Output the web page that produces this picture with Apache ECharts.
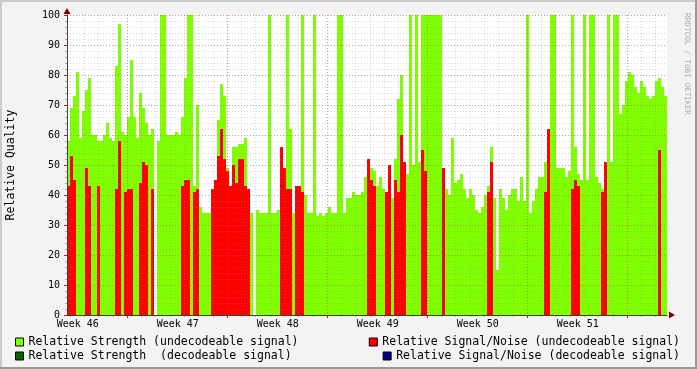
<!DOCTYPE html>
<html><head><meta charset="utf-8">
<script src="https://cdn.jsdelivr.net/npm/echarts@6/dist/echarts.min.js"></script>
<style>html,body{margin:0;padding:0;background:#F3F3F3}#c{width:697px;height:369px}</style>
</head><body><div id="c"></div>
<script>
// Relative Strength (undecodeable signal), one value per 3-px time slot
const strengthUndecodeable = [
58,69,73,81,59,68,75,79,60,60, 58,58,60,64,59,58,83,97,61,60,
66,85,66,59,74,69,64,60,62,0, 58,100,100,60,60,60,61,60,66,79,
100,100,43,70,36,34,34,34,34,37, 65,77,73,49,43,56,56,57,57,59,
42,34,0,35,34,34,34,100,34,34, 35,37,37,100,62,34,37,36,100,40,
34,34,100,33,34,33,34,36,34,34, 100,100,34,39,39,41,40,40,41,46,
48,49,48,43,46,42,40,44,39,52, 72,80,50,47,100,50,100,51,100,100,
100,100,100,100,100,0,42,40,59,44, 45,47,42,39,42,40,35,34,36,40,
43,56,39,15,42,39,35,40,42,42, 38,46,38,100,34,38,42,46,46,51,
45,100,100,49,49,49,46,48,100,56, 47,45,100,45,100,100,46,44,42,49,
100,51,100,100,67,70,78,81,80,76, 74,78,76,73,72,73,78,79,76,73
];
// Relative Signal/Noise (undecodeable signal)
const snrUndecodeable = [
43,53,45,0,0,0,49,43,0,0, 43,0,0,0,0,0,42,58,0,41,
42,42,0,0,44,51,50,0,42,0, 0,0,0,0,0,0,0,0,43,45,
45,0,41,42,0,0,0,0,42,45, 53,62,52,48,43,50,44,52,52,43,
42,0,0,0,0,0,0,0,0,0, 0,56,49,42,42,0,43,43,41,0,
0,0,0,0,0,0,0,0,0,0, 0,0,0,0,0,0,0,0,0,0,
52,45,43,0,0,0,41,50,0,45, 41,60,51,0,0,0,0,0,55,48,
0,0,0,0,0,49,0,0,0,0, 0,0,0,0,0,0,0,0,0,0,
41,51,0,0,0,0,0,0,0,0, 0,0,0,0,0,0,0,0,0,41,
62,0,0,0,0,0,0,0,42,45, 43,0,0,0,0,0,0,0,41,51,
0,0,0,0,0,0,0,0,0,0, 0,0,0,0,0,0,0,55,0,0
];
const strengthDecodeable = [];
const snrDecodeable = [];
const weekLabels = ['Week 46','Week 47','Week 48','Week 49','Week 50','Week 51'];
const seriesNames = [
  'Relative Strength (undecodeable signal)',
  'Relative Signal/Noise (undecodeable signal)',
  'Relative Strength  (decodeable signal)',
  'Relative Signal/Noise (decodeable signal)'
];

const FONT = "'DejaVu Sans Mono', monospace";
const slots = strengthUndecodeable.map((_, i) => i);
const MINOR = 'rgba(140,140,140,0.34)';
const MAJOR = 'rgba(200,40,40,0.36)';

const legendBase = {
  icon: 'rect', itemWidth: 8, itemHeight: 8, padding: 0, selectedMode: false,
  itemStyle: { borderColor: '#000', borderWidth: 1 },
  textStyle: { fontFamily: FONT, fontSize: 11.5, color: '#000' }
};
const hiddenY = (g) => ({ gridIndex: g, type: 'value', min: 0, max: 1, show: false });
const G = (o) => Object.assign({ top: 15, height: 300, containLabel: false, outerBoundsMode: 'none' }, o);

const chart = echarts.init(document.getElementById('c'), null, { renderer: 'canvas' });
chart.setOption({
  animation: false,
  backgroundColor: '#F3F3F3',
  grid: [
    G({ left: 67, width: 600, show: true, backgroundColor: '#fff', borderWidth: 0 }),
    G({ left: 70, width: 585.714 }),
    G({ left: 127.14, width: 500 }),
    G({ left: 77.7, width: 500 })
  ],
  xAxis: [
    { gridIndex: 0, type: 'category', data: slots, boundaryGap: true, position: 'bottom',
      axisLine: { show: true, onZero: false, lineStyle: { color: '#404040' } },
      axisTick: { show: false }, axisLabel: { show: false }, splitLine: { show: false }, z: 6 },
    { gridIndex: 1, type: 'value', min: 0, max: 41, interval: 1,
      axisLine: { show: false, onZero: false }, axisTick: { show: true, length: 2, lineStyle: { color: '#aaa' } },
      axisLabel: { show: false },
      splitLine: { show: true, lineStyle: { color: MINOR, type: [1, 2] } }, z: 4 },
    { gridIndex: 2, type: 'value', min: 0, max: 5, interval: 1,
      axisLine: { show: false, onZero: false }, axisTick: { show: true, length: 3, lineStyle: { color: '#c81e1e' } },
      axisLabel: { show: false },
      splitLine: { show: true, lineStyle: { color: MAJOR, type: [1, 2] } }, z: 5 },
    { gridIndex: 3, type: 'category', data: weekLabels, boundaryGap: false,
      axisLine: { show: false, onZero: false }, axisTick: { show: false },
      axisLabel: { show: true, interval: 0, margin: 4, fontFamily: FONT, fontSize: 10, color: '#000' },
      splitLine: { show: false } },
    { gridIndex: 0, type: 'value', min: 0, max: 1, position: 'bottom',
      axisLine: { show: true, onZero: false, lineStyle: { color: '#7f0000' },
        symbol: ['none', 'triangle'], symbolSize: [7, 6], symbolOffset: [0, 5] },
      axisTick: { show: false }, axisLabel: { show: false }, splitLine: { show: false }, z: 3 }
  ],
  yAxis: [
    { gridIndex: 0, type: 'value', min: 0, max: 100, interval: 10, position: 'left',
      axisLine: { show: true, onZero: false, lineStyle: { color: '#404040' } },
      axisTick: { show: true, length: 3, lineStyle: { color: '#c81e1e' } },
      axisLabel: { fontFamily: FONT, fontSize: 10, color: '#000', margin: 7 },
      splitLine: { show: true, lineStyle: { color: MAJOR, type: [1, 2] } },
      name: 'Relative Quality', nameLocation: 'middle', nameRotate: 90, nameGap: 50,
      nameTextStyle: { fontFamily: FONT, fontSize: 11.5, color: '#000' }, z: 6 },
    { gridIndex: 0, type: 'value', min: 0, max: 100, interval: 2, position: 'left',
      axisLine: { show: true, onZero: false, lineStyle: { color: '#7f0000' },
        symbol: ['none', 'triangle'], symbolSize: [7, 6], symbolOffset: [0, 4] },
      axisTick: { show: true, length: 2, lineStyle: { color: '#aaa' } },
      axisLabel: { show: false },
      splitLine: { show: true, lineStyle: { color: MINOR, type: [1, 2] } }, z: 4 },
    hiddenY(1), hiddenY(2), hiddenY(3)
  ],
  legend: [
    Object.assign({ data: [seriesNames[0]], left: 15, top: 336 }, legendBase),
    Object.assign({ data: [seriesNames[2]], left: 15, top: 350 }, legendBase),
    Object.assign({ data: [seriesNames[1]], right: 17, top: 336 }, legendBase),
    Object.assign({ data: [seriesNames[3]], right: 17, top: 350 }, legendBase)
  ],
  series: [
    { type: 'bar', name: seriesNames[0], xAxisIndex: 0, yAxisIndex: 0, data: strengthUndecodeable,
      barWidth: '100%', barGap: '-100%', itemStyle: { color: '#7FFF00' }, silent: true },
    { type: 'bar', name: seriesNames[1], xAxisIndex: 0, yAxisIndex: 0, data: snrUndecodeable,
      barWidth: '100%', barGap: '-100%', itemStyle: { color: '#FF0000' }, silent: true },
    { type: 'bar', name: seriesNames[2], xAxisIndex: 0, yAxisIndex: 0, data: strengthDecodeable,
      barWidth: '100%', barGap: '-100%', itemStyle: { color: '#006400' }, silent: true },
    { type: 'bar', name: seriesNames[3], xAxisIndex: 0, yAxisIndex: 0, data: snrDecodeable,
      barWidth: '100%', barGap: '-100%', itemStyle: { color: '#00008B' }, silent: true }
  ],
  graphic: [
    { type: 'rect', shape: { x: 0, y: 0, width: 697, height: 2 }, style: { fill: '#CBCBCB' }, silent: true },
    { type: 'rect', shape: { x: 0, y: 0, width: 2, height: 369 }, style: { fill: '#CBCBCB' }, silent: true },
    { type: 'rect', shape: { x: 0, y: 367, width: 697, height: 2 }, style: { fill: '#999999' }, silent: true },
    { type: 'rect', shape: { x: 695, y: 0, width: 2, height: 369 }, style: { fill: '#999999' }, silent: true },
    { type: 'text', x: 687, y: 13, rotation: -Math.PI / 2, silent: true,
      style: { text: 'RRDTOOL / TOBI OETIKER', fontFamily: FONT, fontSize: 7.7, fill: '#aaaaaa',
        align: 'left', verticalAlign: 'middle' } }
  ]
});
</script>
</body></html>
